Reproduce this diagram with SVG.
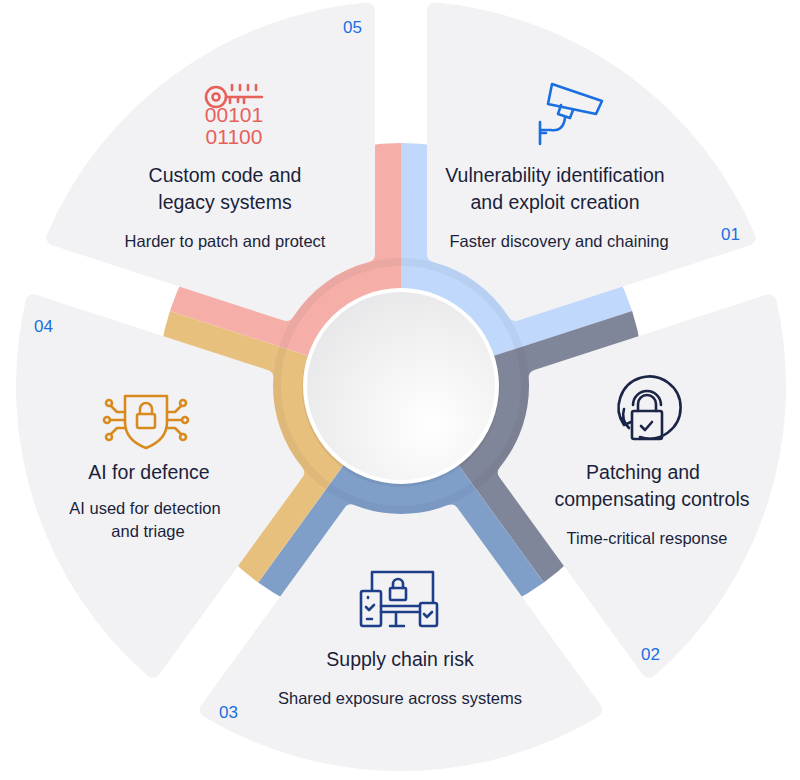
<svg xmlns="http://www.w3.org/2000/svg" width="800" height="780" viewBox="0 0 800 780">
<defs>
<path id="sec" d="M435.0,10.5 A377,377 0 0 1 747.6,237.7 L515.7,313.0 A136,136 0 0 0 435.0,254.3 Z" fill="#f2f2f4" stroke="#f2f2f4" stroke-width="16" stroke-linejoin="round"/>
<path id="wed" d="M401,386 L401,143 A243,243 0 0 1 632.1,310.9 Z"/>
<radialGradient id="cg" cx="0.65" cy="0.7" r="0.8">
<stop offset="0" stop-color="#ffffff"/><stop offset="1" stop-color="#e6e6e8"/>
</radialGradient>
</defs>
<style>
.t{font-family:"Liberation Sans",Arial,sans-serif;fill:#1b1f3b;text-anchor:middle}
.h{font-size:19.5px}.s{font-size:16.5px}
.n{font-family:"Liberation Sans",Arial,sans-serif;font-size:17px;fill:#1a6fe0}
.ic{fill:none;stroke-width:2.6;stroke-linecap:round;stroke-linejoin:round}
</style>
<rect width="800" height="780" fill="#ffffff"/>
<g id="connectors">
<use href="#wed" fill="#bfd8fb"/>
<use href="#wed" fill="#80869a" transform="rotate(72 401 386)"/>
<use href="#wed" fill="#7f9fc9" transform="rotate(144 401 386)"/>
<use href="#wed" fill="#e8c07e" transform="rotate(216 401 386)"/>
<use href="#wed" fill="#f5aea8" transform="rotate(288 401 386)"/>
<circle cx="401" cy="386" r="124" fill="none" stroke="#000" stroke-opacity="0.04" stroke-width="8"/>
</g>
<g id="sectors">
<use href="#sec"/>
<use href="#sec" transform="rotate(72 401 386)"/>
<use href="#sec" transform="rotate(144 401 386)"/>
<use href="#sec" transform="rotate(216 401 386)"/>
<use href="#sec" transform="rotate(288 401 386)"/>
</g>
<g id="center">
<circle cx="401" cy="388" r="99" fill="#000" fill-opacity="0.06"/>
<circle cx="401" cy="386" r="96" fill="url(#cg)" stroke="#ffffff" stroke-width="4"/>
</g>
<g id="n05">
<text class="n" x="343" y="33">05</text>
<g class="ic" stroke="#e8605a">
<circle cx="216" cy="97" r="10"/><circle cx="216" cy="97" r="3.5"/>
<path d="M226,97 H262 M230,97 v6 M238,97 v5 M244,97 v6 M232,85 v5 M240,85 v5 M248,85 v5 M256,85 v5"/>
</g>
<text x="234" y="122" font-family="Liberation Sans,Arial,sans-serif" font-size="21" fill="#e8605a" text-anchor="middle">00101</text>
<text x="234" y="144" font-family="Liberation Sans,Arial,sans-serif" font-size="21" fill="#e8605a" text-anchor="middle">01100</text>
<text class="t h" x="225" y="182">Custom code and</text>
<text class="t h" x="225" y="209">legacy systems</text>
<text class="t s" x="225" y="247">Harder to patch and protect</text>
</g>
<g id="n01">
<text class="n" x="721" y="240">01</text>
<g class="ic" stroke="#1a6fe0">
<path d="M552,84 L602,101 L596,114 L548,104 Z"/>
<path d="M561,105 l-3,9 l12,4 l3,-8"/>
<path d="M565,118 q-2,14 -14,12 h-11 M540,122 v22 M540,133 h6"/>
</g>
<text class="t h" x="555" y="182">Vulnerability identification</text>
<text class="t h" x="555" y="209">and exploit creation</text>
<text class="t s" x="559" y="247">Faster discovery and chaining</text>
</g>
<g id="n02">
<text class="n" x="641" y="660">02</text>
<g class="ic" stroke="#1b2547">
<path d="M624,425 a31,31 0 1 1 16,12 M624,425 l-2,-7 M624,425 l7,-3"/>
<path d="M633,405 a14,14 0 0 1 28,0 M629,428 a19,19 0 0 1 -5,-19" />
<rect x="632" y="411" width="30" height="28" rx="2"/>
<path d="M638,404 a9,9 0 0 1 18,0 v7 M638,404 v7 M641,426 l4,4 l7,-8"/>
</g>
<text class="t h" x="643" y="479">Patching and</text>
<text class="t h" x="652" y="506">compensating controls</text>
<text class="t s" x="647" y="544">Time-critical response</text>
</g>
<g id="n03">
<text class="n" x="219" y="718">03</text>
<g class="ic" stroke="#1d3f8a">
<path d="M372,590 v-18 h61 v30"/>
<rect x="361" y="591" width="20" height="35" rx="2"/>
<rect x="420" y="603" width="17" height="23" rx="2"/>
<path d="M381,606 h39 M381,612 h39 M396,612 v14 M390,626 h14"/>
<rect x="390" y="588" width="16" height="12" rx="1"/>
<path d="M393,588 v-4 a5,5 0 0 1 10,0 v4 M366,607 l3,3 l5,-5 M424,614 l3,3 l5,-5 M367,619 h5 M368,597 v1"/>
</g>
<text class="t h" x="400" y="666">Supply chain risk</text>
<text class="t s" x="400" y="704">Shared exposure across systems</text>
</g>
<g id="n04">
<text class="n" x="34" y="332">04</text>
<g class="ic" stroke="#d98a1e">
<path d="M125,396 h42 v26 q0,18 -21,26 q-21,-8 -21,-26 Z"/>
<rect x="137" y="414" width="18" height="14" rx="2"/>
<path d="M140,414 v-5 a6,6 0 0 1 12,0 v5"/>
<path d="M125,412 h-8 l-6,-6 M125,420 h-15 M125,428 h-8 l-6,6 M167,412 h8 l6,-6 M167,420 h15 M167,428 h8 l6,6"/>
<circle cx="109" cy="403" r="3"/><circle cx="107" cy="420" r="3"/><circle cx="109" cy="437" r="3"/>
<circle cx="183" cy="403" r="3"/><circle cx="185" cy="420" r="3"/><circle cx="183" cy="437" r="3"/>
</g>
<text class="t h" x="149" y="479">AI for defence</text>
<text class="t s" x="145" y="514">AI used for detection</text>
<text class="t s" x="148" y="537">and triage</text>
</g>
</svg>
